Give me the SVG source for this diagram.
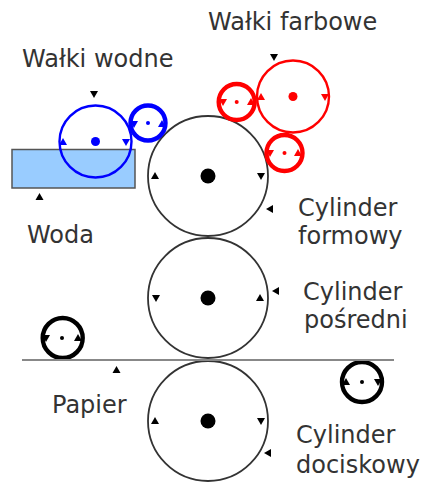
<svg xmlns="http://www.w3.org/2000/svg" width="422" height="482" viewBox="0 0 422 482">
<style>
text{font-family:"DejaVu Sans",sans-serif;font-size:24px;fill:#333}
.c{fill:none;stroke:#333;stroke-width:1.800}
.b{stroke:#00f;fill:none}.r{stroke:#f00;fill:none}.k{stroke:#000;fill:none}
.fb{fill:#00f}.fr{fill:#f00}.fk{fill:#000}
.th{stroke-width:2.400}.tk{stroke-width:4.400}
</style>
<defs>
<path id="u" d="M-4 3L0 -4L4 3Z"/>
<path id="d" d="M-4 -3L0 4L4 -3Z"/>
<path id="l" d="M3 -4L-4 0L3 4Z"/>
</defs>
<rect width="422" height="482" fill="#fff"/>
<g id="woda-tank"><rect x="12" y="149.500" width="123" height="38.500" fill="#99ccff" stroke="#555" stroke-width="1.500"/></g>
<g id="cylinder-formowy"><circle class="c" cx="208" cy="176" r="60"/><circle cx="208" cy="176" r="7.500"/><use href="#u" x="155" y="176"/><use href="#d" x="261" y="176"/></g>
<g id="cylinder-posredni"><circle class="c" cx="208" cy="298" r="60"/><circle cx="208" cy="298" r="7.500"/><use href="#d" x="156" y="298"/><use href="#u" x="260" y="298"/></g>
<g id="cylinder-dociskowy"><circle class="c" cx="208" cy="421" r="60"/><circle cx="208" cy="421" r="7.500"/><use href="#u" x="155" y="421"/><use href="#d" x="261" y="421"/></g>
<g id="walek-wodny-duzy"><circle class="b th" cx="95.500" cy="141.500" r="36"/><circle class="fb" cx="95.500" cy="141.500" r="4.500"/><use class="fb" href="#u" x="63" y="142"/><use class="fb" href="#d" x="126" y="142"/></g>
<g id="walek-wodny-maly"><circle class="b tk" cx="148" cy="123" r="17.500"/><circle class="fb" cx="148" cy="123" r="2"/><use class="fb" href="#d" x="134" y="124"/><use class="fb" href="#u" x="162" y="124"/></g>
<g id="walek-farbowy-duzy"><circle class="r th" cx="293" cy="96.500" r="36"/><circle class="fr" cx="293" cy="96.500" r="4.500"/><use class="fr" href="#u" x="261" y="97"/><use class="fr" href="#d" x="325" y="97"/></g>
<g id="walek-farbowy-lewy"><circle class="r tk" cx="236.700" cy="102" r="18"/><circle class="fr" cx="236.700" cy="102" r="2"/><use class="fr" href="#d" x="223" y="102"/><use class="fr" href="#u" x="251" y="102"/></g>
<g id="walek-farbowy-dolny"><circle class="r tk" cx="284.500" cy="153" r="18"/><circle class="fr" cx="284.500" cy="153" r="2"/><use class="fr" href="#d" x="270" y="153"/><use class="fr" href="#u" x="298" y="153"/></g>
<g id="walek-lewy"><circle class="k tk" cx="62.700" cy="338" r="20"/><circle class="fk" cx="62" cy="338" r="2"/><use href="#d" x="46" y="338"/><use href="#u" x="78" y="338"/></g>
<g id="walek-prawy"><circle class="k tk" cx="362" cy="382" r="20"/><circle class="fk" cx="362" cy="382" r="2"/><use href="#u" x="346" y="382"/><use href="#d" x="378" y="382"/></g>
<g id="connectors">
<line x1="22" y1="360" x2="394" y2="360" stroke="#888" stroke-width="2"/>
<use href="#d" x="94" y="94"/><use href="#u" x="39.500" y="197"/><use href="#d" x="274" y="57"/><use href="#l" x="270" y="209"/><use href="#l" x="276" y="291"/><use href="#u" x="116.500" y="370"/><use href="#l" x="268" y="453"/>
</g>
<g id="labels">
<text x="208" y="30">Wałki farbowe</text>
<text x="22" y="67">Wałki wodne</text>
<text x="27" y="243">Woda</text>
<text x="298" y="216">Cylinder</text><text x="298" y="244">formowy</text>
<text x="303" y="300">Cylinder</text><text x="304" y="328">pośredni</text>
<text x="52" y="413">Papier</text>
<text x="296" y="443">Cylinder</text><text x="296" y="473">dociskowy</text>
</g>
</svg>
